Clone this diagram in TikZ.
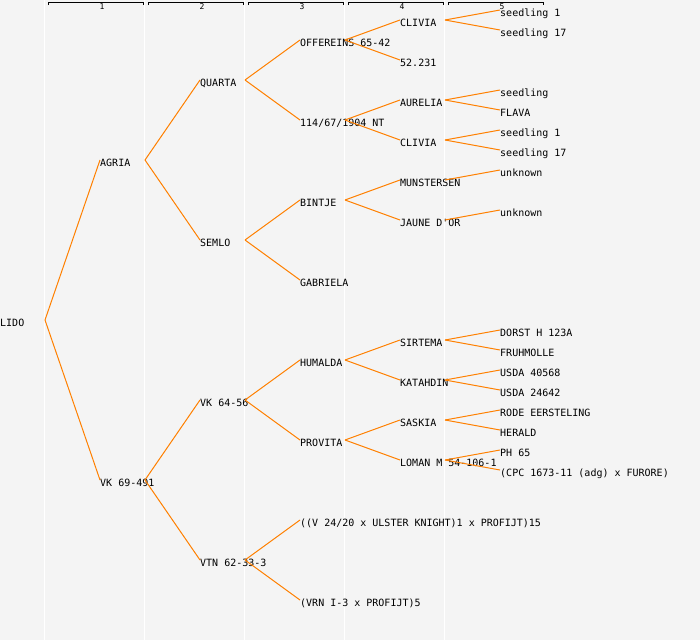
\documentclass[tikz,border=0pt]{standalone}
\usepackage{fontspec}
\setmonofont{DejaVu Sans Mono}
\definecolor{lineorange}{RGB}{255,128,0}
\definecolor{paper}{RGB}{244,244,244}

\begin{document}
\begin{tikzpicture}[x=1pt,y=-1pt,
		cultivar/.style={anchor=west,inner sep=0pt,text height=8pt,text depth=0pt,
			font=\ttfamily\fontsize{10}{10}\selectfont},
		link/.style={lineorange,line width=1pt},
		colline/.style={white,line width=1pt},
		genlabel/.style={inner sep=0pt,font=\ttfamily\fontsize{8}{8}\selectfont}]
	\fill[paper] (0,0) rectangle (700,640);
	\useasboundingbox (0,0) rectangle (700,640);
	% generation columns
	\foreach \x in {44.5,144.5,244.5,344.5,444.5}
		\draw[colline] (\x,0) -- (\x,640);
	\foreach \k in {1,...,5}{
		\draw[line width=1pt] ({100*\k-52},5) -- ++(0,-3) -- ({100*\k+43},2) -- ++(0,3);
		\node[genlabel] (gen\k) at ({100*\k+2},6.5) {\k};
	}
	% pedigree
	\node[cultivar] (lido) at (0,322) {LIDO};
	\node[cultivar] (agria) at (100,162) {AGRIA};
	\node[cultivar] (vk) at (100,482) {VK 69-491};
	\node[cultivar] (quarta) at (200,82) {QUARTA};
	\node[cultivar] (semlo) at (200,242) {SEMLO};
	\node[cultivar] (vkb) at (200,402) {VK 64-56};
	\node[cultivar] (vtn) at (200,562) {VTN 62-33-3};
	\node[cultivar] (offereins) at (300,42) {OFFEREINS 65-42};
	\node[cultivar] (nt) at (300,122) {114/67/1904 NT};
	\node[cultivar] (bintje) at (300,202) {BINTJE};
	\node[cultivar] (gabriela) at (300,282) {GABRIELA};
	\node[cultivar] (humalda) at (300,362) {HUMALDA};
	\node[cultivar] (provita) at (300,442) {PROVITA};
	\node[cultivar] (ulster) at (300,522) {((V 24/20 x ULSTER KNIGHT)1 x PROFIJT)15};
	\node[cultivar] (vrn) at (300,602) {(VRN I-3 x PROFIJT)5};
	\node[cultivar] (cliviaa) at (400,22) {CLIVIA};
	\node[cultivar] (nr52) at (400,62) {52.231};
	\node[cultivar] (aurelia) at (400,102) {AURELIA};
	\node[cultivar] (cliviab) at (400,142) {CLIVIA};
	\node[cultivar] (munstersen) at (400,182) {MUNSTERSEN};
	\node[cultivar] (jaune) at (400,222) {JAUNE D'OR};
	\node[cultivar] (sirtema) at (400,342) {SIRTEMA};
	\node[cultivar] (katahdin) at (400,382) {KATAHDIN};
	\node[cultivar] (saskia) at (400,422) {SASKIA};
	\node[cultivar] (loman) at (400,462) {LOMAN M 54-106-1};
	\node[cultivar] (seeda) at (500,12) {seedling 1};
	\node[cultivar] (seedb) at (500,32) {seedling 17};
	\node[cultivar] (seedc) at (500,92) {seedling};
	\node[cultivar] (flava) at (500,112) {FLAVA};
	\node[cultivar] (seedd) at (500,132) {seedling 1};
	\node[cultivar] (seede) at (500,152) {seedling 17};
	\node[cultivar] (unkna) at (500,172) {unknown};
	\node[cultivar] (unknb) at (500,212) {unknown};
	\node[cultivar] (dorst) at (500,332) {DORST H 123A};
	\node[cultivar] (fruhmolle) at (500,352) {FRUHMOLLE};
	\node[cultivar] (usdaa) at (500,372) {USDA 40568};
	\node[cultivar] (usdab) at (500,392) {USDA 24642};
	\node[cultivar] (rode) at (500,412) {RODE EERSTELING};
	\node[cultivar] (herald) at (500,432) {HERALD};
	\node[cultivar] (ph) at (500,452) {PH 65};
	\node[cultivar] (cpc) at (500,472) {(CPC 1673-11 (adg) x FURORE)};
	\foreach \a/\b in {lido/agria,lido/vk,agria/quarta,agria/semlo,vk/vkb,vk/vtn,
			quarta/offereins,quarta/nt,semlo/bintje,semlo/gabriela,vkb/humalda,vkb/provita,
			vtn/ulster,vtn/vrn,offereins/cliviaa,offereins/nr52,nt/aurelia,nt/cliviab,
			bintje/munstersen,bintje/jaune,humalda/sirtema,humalda/katahdin,
			provita/saskia,provita/loman,cliviaa/seeda,cliviaa/seedb,aurelia/seedc,
			aurelia/flava,cliviab/seedd,cliviab/seede,munstersen/unkna,jaune/unknb,
			sirtema/dorst,sirtema/fruhmolle,katahdin/usdaa,katahdin/usdab,
			saskia/rode,saskia/herald,loman/ph,loman/cpc}
		\draw[link] ([xshift=45pt,yshift=2pt]\a.west) -- ([yshift=2pt]\b.west);
\end{tikzpicture}
\end{document}
